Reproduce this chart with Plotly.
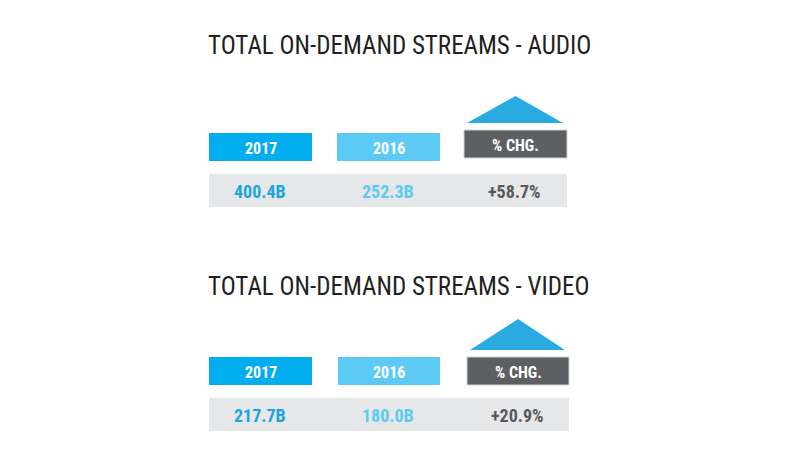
import plotly.graph_objects as go

# ---- data ----
sections = ["AUDIO", "VIDEO"]
header_labels = ["2017", "2016", "% CHG."]
streams_2017 = [400.4, 217.7]   # billions
streams_2016 = [252.3, 180.0]   # billions
pct_change = [58.7, 20.9]       # percent

# ---- styles ----
C2017 = "#00AEEF"
C2016 = "#5BCBF5"
CCHG = "#5D6063"
CTRI = "#29ABE2"
CBAND = "#E6E7E8"
VAL_COLORS = ["#1DA5E2", "#5BCBF5", "#58595B"]
FONT = "Roboto Condensed, Open Sans Condensed, sans-serif"

fig = go.Figure()
shapes = []
annotations = []

# panel geometry (layout positions in pixels)
title_y = [45, 286]
box_top = [133, 357]
chg_top = [130, 357]
tri_top = [96, 319]
band_top = [174, 398]
col_x_all = [
    [(209, 312), (337, 440), (464, 567)],
    [(209, 312), (338, 440), (467, 569)],
]
box_h = 28
band_h = 33

for i, sec in enumerate(sections):
    cols = col_x_all[i]
    annotations.append(dict(
        x=206, y=title_y[i], xref="x", yref="y", xanchor="left", yanchor="middle",
        text="TOTAL ON-DEMAND STREAMS - " + sec, showarrow=False,
        font=dict(family=FONT, size=25, color="#231F20")))
    # triangle above % chg
    cx0, cx1 = cols[2]
    tb = chg_top[i] - 7
    apex_x = (cx0 + cx1) / 2
    shapes.append(dict(type="path", xref="x", yref="y",
                       path=f"M {cx0+3},{tb} L {apex_x},{tri_top[i]} L {cx1-4},{tb} Z",
                       fillcolor=CTRI, line=dict(width=0)))
    # header boxes
    fills = [C2017, C2016, CCHG]
    tops = [box_top[i], box_top[i], chg_top[i]]
    for j, lab in enumerate(header_labels):
        x0, x1 = cols[j]
        shapes.append(dict(type="rect", xref="x", yref="y", x0=x0, x1=x1,
                           y0=tops[j], y1=tops[j] + box_h, fillcolor=fills[j],
                           line=dict(width=1, color="#D0D2D3") if j == 2 else dict(width=0)))
        annotations.append(dict(x=(x0 + x1) / 2, y=tops[j] + box_h / 2 + 1, xref="x", yref="y",
                                text="<b>" + lab + "</b>", showarrow=False,
                                font=dict(family=FONT, size=16, color="white")))
    # value band
    shapes.append(dict(type="rect", xref="x", yref="y", x0=cols[0][0], x1=cols[2][1],
                       y0=band_top[i], y1=band_top[i] + band_h, fillcolor=CBAND, line=dict(width=0)))
    vals = [f"{streams_2017[i]:.1f}B", f"{streams_2016[i]:.1f}B", f"+{pct_change[i]:.1f}%"]
    for j, v in enumerate(vals):
        x0, x1 = cols[j]
        annotations.append(dict(x=(x0 + x1) / 2 - 1, y=band_top[i] + band_h / 2 + 1, xref="x", yref="y",
                                text="<b>" + v + "</b>", showarrow=False,
                                font=dict(family=FONT, size=18, color=VAL_COLORS[j])))

fig.update_layout(
    width=800, height=459, margin=dict(l=0, r=0, t=0, b=0),
    paper_bgcolor="white", plot_bgcolor="white",
    xaxis=dict(range=[0, 800], visible=False, fixedrange=True),
    yaxis=dict(range=[459, 0], visible=False, fixedrange=True),
    shapes=shapes, annotations=annotations, showlegend=False,
)
fig.write_html("out.html", config={"displayModeBar": False},
               post_script="document.body.style.margin='0';document.body.style.overflow='hidden';")
